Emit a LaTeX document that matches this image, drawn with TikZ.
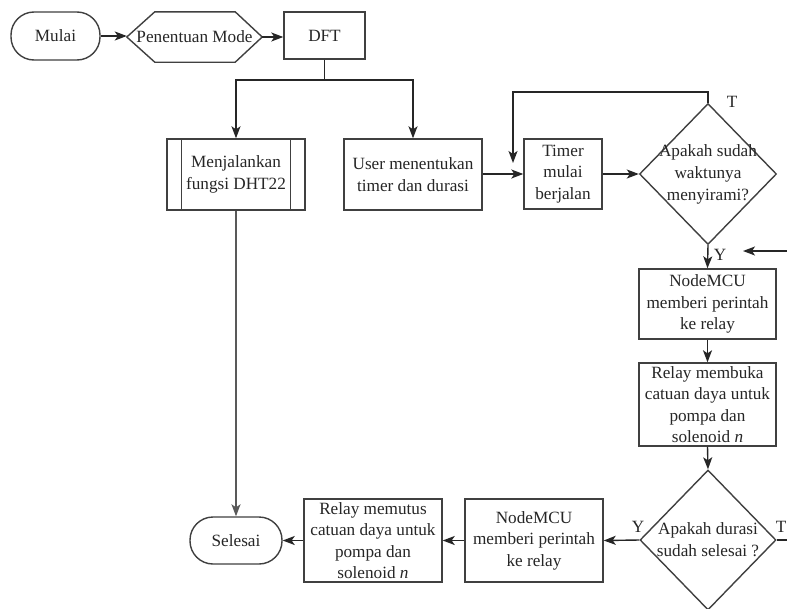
\documentclass[tikz,border=0pt]{standalone}
\usepackage{fontspec}
\setmainfont{Liberation Serif}
\usetikzlibrary{shapes.geometric,arrows.meta,calc}
\begin{document}
\begin{tikzpicture}[x=1pt,y=-1pt,
  every node/.style={font=\fontsize{17.2}{21.5}\selectfont, align=center, inner sep=0pt, text=black!85},
  boxline/.style={draw=black!75, line width=1.4pt},
  procbox/.style={boxline, rectangle},
  termbox/.style={boxline, rectangle, rounded corners=23pt},
  diabox/.style={boxline, diamond},
  lbl/.style={font=\fontsize{17.2}{20}\selectfont},
  conn/.style={draw=black!85, line width=1.4pt},
  arr/.style={conn, -{Stealth[length=12pt,width=9pt,inset=3pt]}}
]
\useasboundingbox[fill=white] (0,0) rectangle (787,608);

% nodes
\node[termbox, minimum width=89pt, minimum height=48pt] (mulai) at (55.5,36) {Mulai};
\node[minimum width=135pt, minimum height=50pt] (hex) at (194.5,37) {Penentuan Mode};
\draw[boxline] (hex.west) -- ($(hex.north west)+(28,0)$) -- ($(hex.north east)+(-27,0)$) -- (hex.east)
  -- ($(hex.south east)+(-27,0)$) -- ($(hex.south west)+(28,0)$) -- cycle;
\node[procbox, minimum width=81pt, minimum height=47pt] (dft) at (324.5,35.5) {DFT};

\node[procbox, minimum width=138pt, minimum height=71pt] (fn) at (236,174.5) {Menjalankan\\fungsi DHT22};
\draw[boxline] ($(fn.north west)+(15,0)$) -- ($(fn.south west)+(15,0)$);
\draw[boxline] ($(fn.north east)+(-15,0)$) -- ($(fn.south east)+(-15,0)$);

\node[procbox, minimum width=138pt, minimum height=71pt] (user) at (413,174.5) {User menentukan\\timer dan durasi};
\node[procbox, minimum width=78pt, minimum height=70pt] (timer) at (563,174) {Timer\\mulai\\berjalan};

\node[diabox, minimum width=137pt, minimum height=141pt] (d1) at (708,174) {};
\node[font=\fontsize{17.2}{22}\selectfont] (d1t) at (708,174) {Apakah sudah\\waktunya\\menyirami?};

\node[procbox, minimum width=137pt, minimum height=70pt] (mcu1) at (707.5,304) {NodeMCU\\memberi perintah\\ke relay};
\node[procbox, minimum width=137pt, minimum height=83pt] (relay1) at (707.5,404.5) {Relay membuka\\catuan daya untuk\\pompa dan\\solenoid \textit{n}};

\node[diabox, minimum width=136pt, minimum height=140pt] (d2) at (708,540) {};
\node[font=\fontsize{17.2}{22}\selectfont] (d2t) at (708,540) {Apakah durasi\\sudah selesai ?};

\node[procbox, minimum width=138pt, minimum height=83pt] (mcu2) at (534,540.5) {NodeMCU\\memberi perintah\\ke relay};
\node[procbox, minimum width=138pt, minimum height=83pt] (relay2) at (373,540.5) {Relay memutus\\catuan daya untuk\\pompa dan\\solenoid \textit{n}};
\node[termbox, minimum width=92pt, minimum height=47pt] (selesai) at (236,540.5) {Selesai};

% labels
\node[lbl] (t1) at (732,102) {T};
\node[lbl] (y1) at (720,255) {Y};
\node[lbl] (y2) at (638,527) {Y};
\node[lbl, anchor=east] (t2) at (786.5,527) {T};

% helper coordinates
\coordinate (j) at (324.5,80);
\coordinate (lptop) at (513,92);
\coordinate (lpend) at (513,163);
\coordinate (rin) at (787,251);
\coordinate (rend) at (743,251);
\coordinate (rout) at (787,540);

% connectors
\draw[arr] (mulai.east) -- (hex.west |- mulai.east);
\draw[arr] (hex.east) -- (dft.west |- hex.east);
\draw[conn] (dft.south) -- (j);
\draw[arr] (j) -| (fn.north);
\draw[arr] (j) -| (user.north);
\draw[arr] (user.east |- timer.west) -- (timer.west);
\draw[arr] (timer.east) -- (d1.west);
\draw[arr] (d1.north) -- (d1.north |- lptop) -- (lptop) -- (lpend);
\draw[arr] (d1.south) -- (mcu1.north);
\draw[arr] (rin) -- (rend);
\draw[arr] (mcu1.south) -- (relay1.north);
\draw[arr] (relay1.south) -- (d2.north);
\draw[arr] (d2.west) -- (mcu2.east);
\draw[conn] (d2.east) -- (rout);
\draw[arr] (mcu2.west) -- (relay2.east);
\draw[arr] (relay2.west) -- (selesai.east);
\draw[arr, draw=black!65] (fn.south) -- (selesai.north);
\end{tikzpicture}
\end{document}
